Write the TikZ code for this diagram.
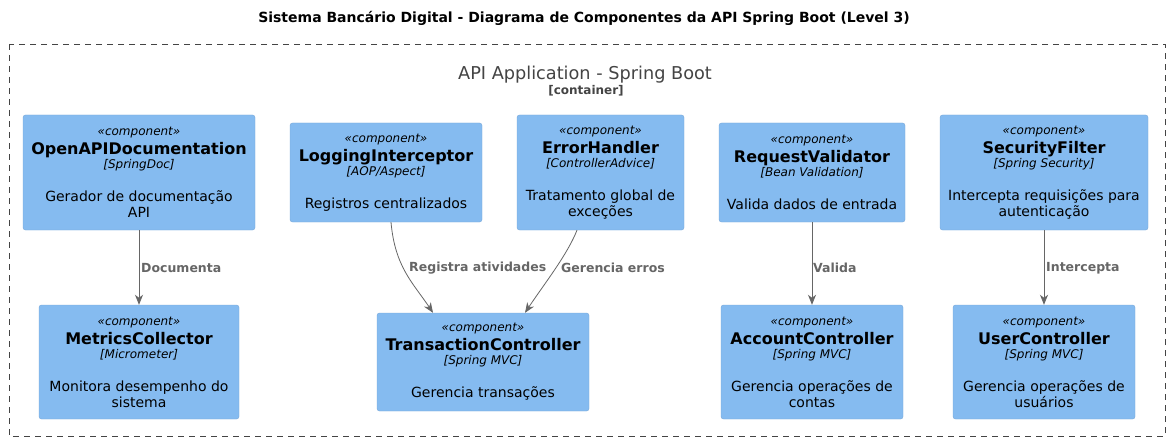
\documentclass[tikz,border=0pt]{standalone}
\usepackage{fontspec}
\setmainfont{DejaVu Sans}
\usetikzlibrary{arrows.meta,calc}
\definecolor{compfill}{HTML}{85BBF0}
\definecolor{compdraw}{HTML}{78A8D8}
\definecolor{relgray}{HTML}{666666}
\definecolor{contgray}{HTML}{444444}
\newcommand\complines[3]{{\fontsize{12}{14}\selectfont\itshape «component»}\\[3pt]{\fontsize{16}{19}\selectfont\bfseries #1}\\[-2pt]{\fontsize{12}{14}\selectfont\itshape [#2]}\\[17pt]#3}
\begin{document}
\begin{tikzpicture}[x=1pt,y=-1pt,
  compbox/.style={draw=compdraw,fill=compfill,rounded corners=2.5pt,line width=0.4pt,
    align=center,inner sep=0pt,font=\fontsize{14}{16}\selectfont,text=black},
  rel/.style={draw=relgray,line width=0.8pt,-{Stealth[length=10pt,width=8pt,inset=3pt]}},
  rellabel/.style={text=relgray,font=\fontsize{12.5}{14}\selectfont\bfseries,anchor=west,inner sep=0pt}]
\useasboundingbox[fill=white] (0,0) rectangle (1169,441);
\node[font=\fontsize{14}{16}\selectfont\bfseries] (title) at (584,18) {Sistema Bancário Digital - Diagrama de Componentes da API Spring Boot (Level 3)};
\draw[contgray,line width=0.8pt,dash pattern=on 6pt off 5pt] (9,44) rectangle (1165,436);
\node[text=contgray,font=\fontsize{17.7}{20}\selectfont] (ctitle) at (585,75) {API Application - Spring Boot};
\node[text=contgray,font=\fontsize{12}{14}\selectfont\bfseries] (ctype) at (586,91) {[container]};

\node[compbox,minimum width=232pt,minimum height=115pt] (oad) at (139,172.5) {\complines{OpenAPIDocumentation}{SpringDoc}{Gerador de documentação\\API}};
\node[compbox,minimum width=192pt,minimum height=99pt] (log) at (386,172.5) {\complines{LoggingInterceptor}{AOP/Aspect}{Registros centralizados}};
\node[compbox,minimum width=167pt,minimum height=115pt] (err) at (600.5,172.5) {\complines{ErrorHandler}{ControllerAdvice}{Tratamento global de\\exceções}};
\node[compbox,minimum width=186pt,minimum height=99pt] (req) at (812,172.5) {\complines{RequestValidator}{Bean Validation}{Valida dados de entrada}};
\node[compbox,minimum width=208pt,minimum height=115pt] (sec) at (1044,172.5) {\complines{SecurityFilter}{Spring Security}{Intercepta requisições para\\autenticação}};

\node[compbox,minimum width=200pt,minimum height=114pt] (met) at (139,362) {\complines{MetricsCollector}{Micrometer}{Monitora desempenho do\\sistema}};
\node[compbox,minimum width=212pt,minimum height=98pt] (trx) at (483,362) {\complines{TransactionController}{Spring MVC}{Gerencia transações}};
\node[compbox,minimum width=182pt,minimum height=114pt] (acc) at (812,362) {\complines{AccountController}{Spring MVC}{Gerencia operações de\\contas}};
\node[compbox,minimum width=182pt,minimum height=114pt] (usr) at (1044,362) {\complines{UserController}{Spring MVC}{Gerencia operações de\\usuários}};

\draw[rel] (oad.south) -- (met.north);
\node[rellabel] (l1) at (141,268) {Documenta};
\draw[rel] ([xshift=5pt]log.south) .. controls ($([xshift=5pt]log.south)+(4,45)$) and ($([xshift=-50pt]trx.north)+(-20,-30)$) .. ([xshift=-50pt]trx.north);
\node[rellabel] (l2) at (409,268) {Registra atividades};
\draw[rel] ([xshift=-23.5pt]err.south) .. controls ($([xshift=-23.5pt]err.south)+(-10,25)$) and ($([xshift=42pt]trx.north)+(20,-30)$) .. ([xshift=42pt]trx.north);
\node[rellabel] (l3) at (561,268) {Gerencia erros};
\draw[rel] (req.south) -- (acc.north);
\node[rellabel] (l4) at (813,268) {Valida};
\draw[rel] (sec.south) -- (usr.north);
\node[rellabel] (l5) at (1046,268) {Intercepta};
\end{tikzpicture}
\end{document}
